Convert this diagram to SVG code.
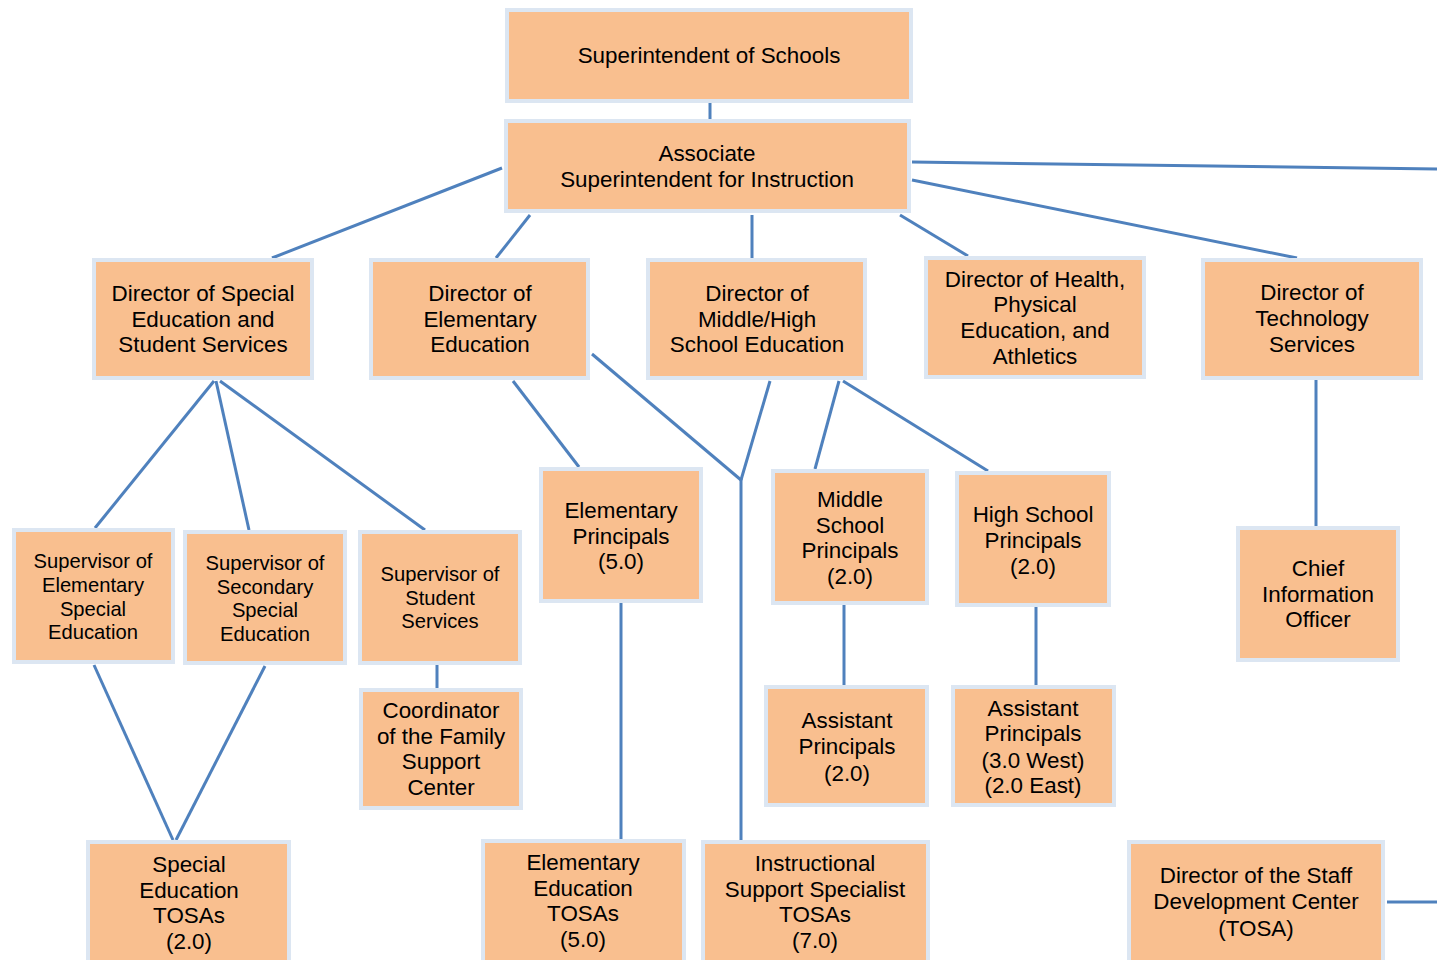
<svg xmlns="http://www.w3.org/2000/svg" width="1437" height="960" viewBox="0 0 1437 960">
<style>
.b{fill:#F9BF8F;stroke:#DCE6F2;stroke-width:4}
.t{font-family:"Liberation Sans",Arial,sans-serif;font-size:22.4px;fill:#000;text-anchor:middle}
.s{font-size:20.2px}
.c{stroke:#4F81BD;stroke-width:3;fill:none}
</style>
<rect width="1437" height="960" fill="#fff"/>
<g id="connectors" class="c">
<line x1="710" y1="103" x2="710" y2="119"/>
<line x1="502" y1="168" x2="272" y2="258"/>
<line x1="530" y1="215" x2="496" y2="258"/>
<line x1="752" y1="215" x2="752" y2="258"/>
<line x1="900" y1="215" x2="968" y2="256"/>
<line x1="912" y1="180" x2="1297" y2="258"/>
<line x1="912" y1="162" x2="1437" y2="169"/>
<line x1="214" y1="381" x2="95" y2="528"/>
<line x1="216" y1="381" x2="249" y2="530"/>
<line x1="220" y1="381" x2="425" y2="530"/>
<line x1="437" y1="665" x2="437" y2="688"/>
<line x1="94" y1="665" x2="173" y2="840"/>
<line x1="265" y1="666" x2="176" y2="840"/>
<line x1="513" y1="381" x2="579" y2="467"/>
<line x1="592" y1="354" x2="741" y2="480"/>
<line x1="741" y1="478" x2="741" y2="840"/>
<line x1="770" y1="381" x2="741" y2="480"/>
<line x1="839" y1="381" x2="815" y2="469"/>
<line x1="843" y1="381" x2="988" y2="471"/>
<line x1="621" y1="603" x2="621" y2="839"/>
<line x1="844" y1="605" x2="844" y2="685"/>
<line x1="1036" y1="607" x2="1036" y2="685"/>
<line x1="1316" y1="380" x2="1316" y2="526"/>
<line x1="1387" y1="902" x2="1437" y2="902"/>
</g>
<g id="superintendent"><rect class="b" x="507" y="10" width="404" height="91"/><text class="t" x="709" y="63">Superintendent of Schools</text></g>
<g id="associate"><rect class="b" x="506" y="121" width="403" height="90"/><text class="t" x="707" y="161">Associate</text><text class="t" x="707" y="187">Superintendent for Instruction</text></g>
<g id="dir-special"><rect class="b" x="94" y="260" width="218" height="118"/><text class="t" x="203" y="301">Director of Special</text><text class="t" x="203" y="327">Education and</text><text class="t" x="203" y="352">Student Services</text></g>
<g id="dir-elem"><rect class="b" x="371" y="260" width="217" height="118"/><text class="t" x="480" y="301">Director of</text><text class="t" x="480" y="327">Elementary</text><text class="t" x="480" y="352">Education</text></g>
<g id="dir-mh"><rect class="b" x="648" y="260" width="217" height="118"/><text class="t" x="757" y="301">Director of</text><text class="t" x="757" y="327">Middle/High</text><text class="t" x="757" y="352">School Education</text></g>
<g id="dir-health"><rect class="b" x="926" y="258" width="218" height="119"/><text class="t" x="1035" y="287">Director of Health,</text><text class="t" x="1035" y="312">Physical</text><text class="t" x="1035" y="338">Education, and</text><text class="t" x="1035" y="364">Athletics</text></g>
<g id="dir-tech"><rect class="b" x="1203" y="260" width="218" height="118"/><text class="t" x="1312" y="300">Director of</text><text class="t" x="1312" y="326">Technology</text><text class="t" x="1312" y="352">Services</text></g>
<g id="sup-elem"><rect class="b" x="14" y="530" width="159" height="132"/><text class="t s" x="93" y="568">Supervisor of</text><text class="t s" x="93" y="592">Elementary</text><text class="t s" x="93" y="616">Special</text><text class="t s" x="93" y="639">Education</text></g>
<g id="sup-sec"><rect class="b" x="185" y="532" width="160" height="131"/><text class="t s" x="265" y="570">Supervisor of</text><text class="t s" x="265" y="594">Secondary</text><text class="t s" x="265" y="617">Special</text><text class="t s" x="265" y="641">Education</text></g>
<g id="sup-student"><rect class="b" x="360" y="532" width="160" height="131"/><text class="t s" x="440" y="581">Supervisor of</text><text class="t s" x="440" y="605">Student</text><text class="t s" x="440" y="628">Services</text></g>
<g id="coordinator"><rect class="b" x="361" y="690" width="160" height="118"/><text class="t" x="441" y="718">Coordinator</text><text class="t" x="441" y="744">of the Family</text><text class="t" x="441" y="769">Support</text><text class="t" x="441" y="795">Center</text></g>
<g id="elem-principals"><rect class="b" x="541" y="469" width="160" height="132"/><text class="t" x="621" y="518">Elementary</text><text class="t" x="621" y="544">Principals</text><text class="t" x="621" y="569">(5.0)</text></g>
<g id="ms-principals"><rect class="b" x="773" y="471" width="154" height="132"/><text class="t" x="850" y="507">Middle</text><text class="t" x="850" y="533">School</text><text class="t" x="850" y="558">Principals</text><text class="t" x="850" y="584">(2.0)</text></g>
<g id="hs-principals"><rect class="b" x="957" y="473" width="152" height="132"/><text class="t" x="1033" y="522">High School</text><text class="t" x="1033" y="548">Principals</text><text class="t" x="1033" y="574">(2.0)</text></g>
<g id="cio"><rect class="b" x="1238" y="528" width="160" height="132"/><text class="t" x="1318" y="576">Chief</text><text class="t" x="1318" y="602">Information</text><text class="t" x="1318" y="627">Officer</text></g>
<g id="ms-assistant"><rect class="b" x="766" y="687" width="161" height="118"/><text class="t" x="847" y="728">Assistant</text><text class="t" x="847" y="754">Principals</text><text class="t" x="847" y="781">(2.0)</text></g>
<g id="hs-assistant"><rect class="b" x="953" y="687" width="161" height="118"/><text class="t" x="1033" y="716">Assistant</text><text class="t" x="1033" y="741">Principals</text><text class="t" x="1033" y="768">(3.0 West)</text><text class="t" x="1033" y="793">(2.0 East)</text></g>
<g id="sped-tosas"><rect class="b" x="88" y="842" width="201" height="130"/><text class="t" x="189" y="872">Special</text><text class="t" x="189" y="898">Education</text><text class="t" x="189" y="923">TOSAs</text><text class="t" x="189" y="949">(2.0)</text></g>
<g id="elem-tosas"><rect class="b" x="483" y="841" width="201" height="130"/><text class="t" x="583" y="870">Elementary</text><text class="t" x="583" y="896">Education</text><text class="t" x="583" y="921">TOSAs</text><text class="t" x="583" y="947">(5.0)</text></g>
<g id="iss-tosas"><rect class="b" x="703" y="842" width="225" height="130"/><text class="t" x="815" y="871">Instructional</text><text class="t" x="815" y="897">Support Specialist</text><text class="t" x="815" y="922">TOSAs</text><text class="t" x="815" y="948">(7.0)</text></g>
<g id="staff-dev"><rect class="b" x="1129" y="842" width="254" height="130"/><text class="t" x="1256" y="883">Director of the Staff</text><text class="t" x="1256" y="909">Development Center</text><text class="t" x="1256" y="936">(TOSA)</text></g>
</svg>
